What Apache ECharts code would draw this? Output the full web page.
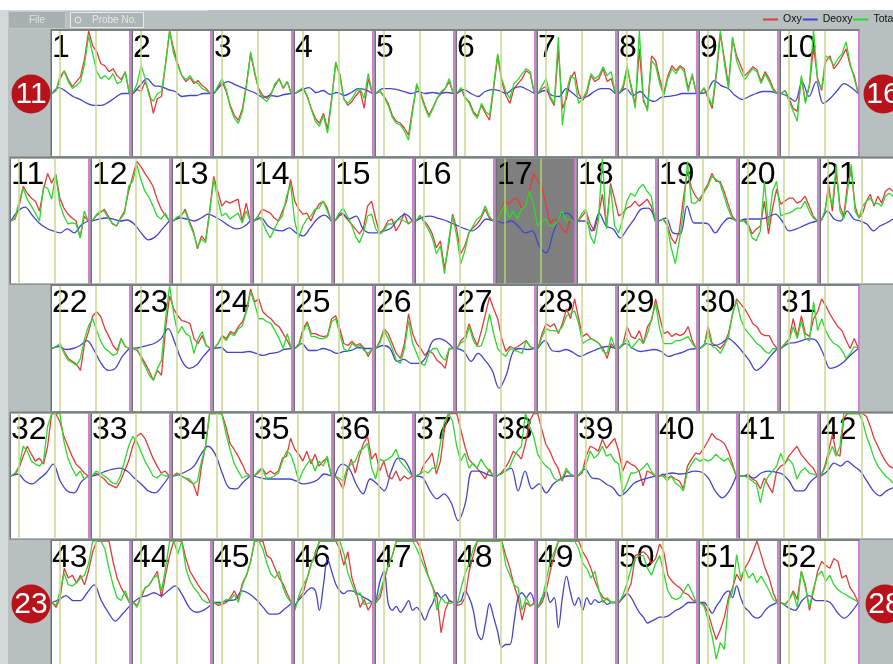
<!DOCTYPE html>
<html><head><meta charset="utf-8">
<script src="https://cdn.jsdelivr.net/npm/echarts@6/dist/echarts.min.js"></script>
<style>html,body{margin:0;padding:0;background:#b7bfbf;}#c{width:893px;height:664px;}</style>
</head><body><div id="c"></div>
<script>
// ---------- data ----------
const seriesNames = ['Oxy', 'Deoxy', 'Total'];
const taskMarks = [0.1, 0.575];           // task start / end (fraction of epoch)
const sideLabels = ['11', '16', '23', '28'];

const oxy = [
[0,3,15,23,14,7,12,17,35,63,48,42,30,28,22,25,18,14,22,0],
[0,4,2,12,0,-20,-5,-3,30,63,45,30,18,12,16,10,13,8,5,0],
[0,6,12,2,-12,-22,-27,-15,10,40,20,5,-2,-5,0,8,15,5,12,0],
[0,2,5,-3,-15,-25,-30,-20,-36,-5,30,20,-5,-12,-8,-2,3,-15,15,0],
[0,2,-3,-10,-22,-28,-30,-35,-42,-15,8,0,-12,-22,-14,-5,0,5,12,0],
[0,5,-5,-8,-18,-23,-12,-20,-27,5,38,12,-2,-10,5,10,15,23,20,0],
[0,5,7,-5,-12,45,-15,-5,15,22,0,-7,0,18,12,15,25,12,15,0],
[0,5,25,8,-12,45,-8,-15,38,33,15,0,18,28,23,28,25,5,18,0],
[0,5,-5,-15,18,60,35,8,55,38,28,18,22,27,24,12,22,15,5,0],
[0,3,-5,-15,-18,15,-8,8,47,15,3,32,38,25,30,37,45,28,18,0],
[0,2,15,35,28,23,20,10,32,48,38,47,23,13,7,3,0,-17,5,0],
[0,5,8,12,5,-3,-5,3,10,30,45,60,55,48,42,35,22,12,6,0],
[0,3,5,12,0,-10,-28,-15,-20,10,45,30,15,20,18,20,22,0,18,0],
[0,5,12,10,8,3,0,10,20,42,20,12,7,8,0,10,17,20,13,0],
[0,5,7,2,-3,-8,-13,-7,15,20,2,-13,-8,0,2,-10,-3,8,-3,0],
[0,5,0,-5,-13,-27,-20,-48,-25,7,-8,-33,-25,-12,-7,-3,3,12,3,0],
[0,12,20,17,22,23,13,15,30,48,40,35,17,-3,2,0,-8,-12,3,0],
[0,5,10,-3,-10,5,27,-5,38,22,5,8,13,15,20,15,18,22,15,0],
[0,2,-3,-17,-23,-10,23,50,33,25,20,30,37,48,40,40,30,17,5,0],
[0,2,-3,-13,-8,-5,20,-13,13,32,17,20,23,23,18,20,25,15,5,0],
[0,8,37,10,50,15,5,37,50,15,3,8,20,27,15,25,18,30,33,30],
[0,2,3,-3,-10,-13,-16,-22,5,17,33,37,32,20,12,3,-2,10,2,0],
[0,-2,-8,-15,-23,-32,-22,-27,20,53,40,33,28,27,25,10,5,13,3,0],
[0,5,13,10,17,15,22,27,38,60,47,50,37,33,30,25,22,15,8,0],
[0,5,20,27,15,15,13,12,13,30,33,20,5,3,7,3,5,0,-8,0],
[0,8,20,15,5,-5,-10,5,35,15,5,0,-7,-2,-5,-12,-15,-20,0,0],
[0,8,12,25,12,3,18,35,52,40,30,10,-3,2,0,2,5,8,2,0],
[0,15,25,22,25,15,25,40,30,50,30,12,15,10,8,5,0,-10,5,0],
[0,5,22,12,10,18,5,22,28,50,32,15,17,12,15,13,15,22,8,0],
[0,3,22,5,3,0,5,15,35,50,45,40,33,25,22,15,13,13,5,0],
[0,5,10,30,12,33,15,12,30,37,50,43,35,28,22,18,8,0,10,0],
[0,2,8,20,30,22,15,18,12,30,63,63,55,40,30,20,12,8,3,0],
[0,3,0,-3,-8,-10,-12,-5,5,15,30,40,43,38,28,18,10,3,5,0],
[0,3,0,-2,-5,-8,-20,10,30,63,63,63,63,50,33,27,20,12,3,0],
[0,3,8,2,5,2,5,18,20,38,27,22,15,25,12,22,10,15,18,0],
[0,-5,-13,5,17,3,20,33,40,17,23,5,15,0,-3,5,-5,0,-3,0],
[0,2,12,17,23,2,15,47,63,63,63,47,30,17,12,8,3,-3,7,0],
[0,3,8,15,25,22,17,33,55,63,63,47,32,25,15,8,-5,5,2,0],
[0,3,20,30,28,25,37,28,33,38,25,5,15,12,10,5,-10,5,3,0],
[0,2,-2,0,-3,-5,-13,10,17,23,22,28,35,43,38,36,33,25,13,0],
[0,0,2,-3,-5,-13,-2,-10,-17,5,10,12,20,25,30,22,17,12,8,0],
[0,10,25,42,23,20,58,63,63,63,63,63,60,50,38,30,22,15,10,8],
[0,-5,5,35,25,28,20,28,18,33,52,63,63,63,63,42,25,15,8,0],
[0,-3,5,15,18,25,32,5,28,48,63,63,63,45,32,25,18,12,8,0],
[0,-3,-2,0,5,12,3,20,28,42,63,63,63,48,45,35,25,19,9,0],
[-5,5,10,25,40,48,63,63,63,63,63,55,38,52,25,12,-5,3,-8,0],
[0,5,22,38,48,63,63,63,63,63,63,55,40,25,15,5,-31,-8,2,0],
[-3,-2,5,32,48,63,63,63,63,63,63,63,48,35,18,5,-18,0,-4,0],
[-5,0,12,32,48,63,63,63,63,63,63,52,45,35,22,12,5,3,0,0],
[0,5,10,20,48,50,52,48,40,45,60,52,28,22,18,15,10,8,3,0],
[0,-2,-11,-25,-38,-28,-15,5,15,29,22,35,42,52,63,49,35,25,10,0],
[0,-2,3,12,3,32,18,-8,12,32,42,38,35,45,42,25,28,15,9,0]
];

const total = [
[0,3,18,22,12,5,8,12,30,58,40,22,15,18,14,20,10,12,22,0],
[0,10,28,15,-3,-8,0,2,30,63,40,28,18,14,18,12,10,5,3,0],
[0,8,15,4,-14,-25,-30,-18,8,42,22,3,-5,-8,-2,10,14,6,12,0],
[0,3,6,-2,-16,-28,-33,-22,-40,-8,32,18,-6,-10,-5,2,5,-5,20,0],
[0,3,-4,-12,-24,-30,-32,-38,-47,-18,10,-2,-14,-24,-15,-5,2,5,15,0],
[0,6,-3,-10,-20,-25,-10,-18,-22,8,40,15,2,-5,10,14,20,25,22,0],
[0,8,15,-3,-10,57,-32,2,18,15,-10,-5,3,20,15,18,27,18,22,0],
[0,8,28,5,-15,63,-5,-18,33,28,10,-2,15,25,20,27,22,2,20,0],
[0,6,-3,-12,22,63,30,5,57,33,22,14,20,25,22,10,20,12,3,0],
[0,3,-8,-18,-28,18,-10,10,63,12,5,38,35,28,35,40,52,30,15,0],
[0,3,20,33,22,15,8,0,35,33,22,47,17,5,-3,-2,-3,-17,10,0],
[0,6,10,10,3,-2,-5,2,8,35,40,57,42,30,24,15,5,2,8,0],
[0,4,6,10,-2,-12,-26,-18,-22,8,42,22,5,8,2,5,8,-2,10,0],
[0,5,0,-10,-17,-8,0,5,25,37,0,-17,-5,2,5,12,13,20,10,0],
[0,8,13,5,-3,-15,-22,-12,5,7,-8,-13,-10,-3,-3,0,2,0,-2,0],
[0,6,-2,-8,-17,-33,-25,-53,-20,5,-15,-43,-30,-12,-5,2,5,15,5,0],
[0,10,17,3,10,2,12,15,30,17,-5,0,2,-5,-5,0,10,0,2,0],
[0,8,12,-15,-23,0,63,-8,35,-5,-12,2,20,28,25,33,37,30,25,0],
[0,2,-5,-27,-43,-20,10,60,18,18,23,28,35,45,42,38,25,12,3,0],
[0,0,-5,-17,-20,-10,40,-5,30,40,5,7,8,10,13,13,20,10,3,0],
[0,10,30,15,57,10,2,30,57,10,3,15,20,23,17,18,15,25,28,25],
[0,2,5,-5,-12,-14,-17,-10,10,23,30,18,7,0,-3,-7,-5,10,2,0],
[0,0,-10,-18,-27,-32,-20,-12,30,63,35,15,22,15,12,-5,10,17,3,0],
[0,5,12,8,15,13,20,23,38,57,45,30,30,27,25,18,10,0,15,0],
[0,3,17,25,12,12,10,10,12,27,30,15,0,-3,5,2,3,-2,-5,0],
[0,6,18,10,0,-12,-15,0,28,5,-5,-15,-17,-5,0,0,-8,-12,0,0],
[0,6,8,22,8,2,3,15,35,15,0,-5,-8,0,-2,-3,-5,8,2,0],
[0,12,20,18,18,17,22,33,35,38,25,5,8,10,8,5,-3,-5,12,0],
[0,5,10,0,5,10,5,15,30,45,20,5,5,5,8,8,10,12,5,0],
[0,3,18,2,0,-5,3,12,35,48,30,20,15,10,5,2,-3,-5,0,0],
[0,5,8,22,10,28,10,8,47,18,30,18,10,5,3,-2,-10,-5,2,0],
[0,3,10,30,25,15,12,10,15,50,63,63,63,35,18,8,0,5,-3,0],
[0,5,3,0,-3,-7,-8,0,15,30,40,35,25,15,8,0,-2,2,0,0],
[0,2,0,-2,-3,-8,-5,15,30,63,63,63,63,43,27,13,5,-2,0,0],
[0,5,8,-2,-2,0,3,15,25,22,10,-5,5,12,17,5,15,10,20,0],
[0,-2,-5,8,12,15,25,28,33,8,-3,17,15,17,20,27,15,10,5,0],
[0,2,5,3,8,8,33,55,63,55,30,15,23,8,13,8,17,10,5,0],
[0,2,5,8,18,25,30,63,50,40,22,15,10,7,-2,-5,-3,8,2,0],
[0,5,12,25,18,22,30,20,22,15,12,-17,-8,3,3,5,8,13,5,0],
[0,0,-5,0,-7,-10,-15,5,12,18,15,17,15,17,22,18,15,18,10,0],
[0,0,-2,-5,-8,-27,-8,0,5,10,23,13,17,12,-3,5,8,3,2,0],
[0,8,20,30,20,30,63,63,63,63,63,55,40,30,18,10,5,0,-3,-7],
[0,-3,12,30,18,17,20,25,28,40,63,63,63,55,35,18,5,2,12,0],
[0,-5,8,15,18,25,28,12,35,63,63,50,63,35,22,15,10,3,0,0],
[0,-2,0,3,3,8,0,18,28,42,63,63,55,40,29,25,32,15,5,0],
[-8,8,18,25,40,50,63,63,63,63,63,63,50,30,19,8,10,-2,-1,0],
[0,10,25,38,48,63,63,63,63,63,55,45,35,25,15,-8,5,0,-1,0],
[-3,15,30,40,55,63,63,63,63,63,63,63,38,28,18,15,-8,5,-3,-2],
[-5,3,22,42,52,63,63,63,63,63,55,40,35,25,32,12,0,5,0,0],
[0,8,20,35,45,48,48,35,28,40,48,30,12,5,3,5,12,19,10,0],
[0,-4,-18,-35,-58,-41,-48,2,10,49,25,35,25,30,20,27,20,12,3,0],
[0,-3,3,10,-5,32,15,-5,15,28,32,22,28,18,13,10,8,5,3,0]
];

const deoxy = [
[0,6,2,-3,-6,-10,-12,-12,-9,-4,0,0],
[0,8,15,8,7,4,2,-3,-2,-2,0,0],
[0,8,12,9,6,3,0,-4,-2,-3,-1,0],
[0,4,6,1,3,-1,1,-2,1,5,4,0],
[0,5,5,4,2,0,2,0,1,0,1,0],
[0,4,0,-3,2,4,3,0,5,7,4,0],
[0,3,-2,-3,5,0,-5,-3,2,5,5,0],
[0,5,-2,2,-5,-8,-4,-3,-2,0,0,0],
[0,2,13,8,5,-2,-6,-3,0,2,2,0],
[0,-3,-8,12,-3,12,-10,-5,3,10,6,0],
[0,10,14,6,-2,-7,-10,-12,-8,-12,-4,0],
[0,2,3,2,0,1,-3,-12,-19,-16,-8,0],
[0,3,2,0,3,7,4,0,-5,-8,-6,0],
[0,3,-5,-9,-10,-7,-12,-15,-7,2,6,0],
[0,8,2,5,-8,-12,-12,-10,-7,2,7,0],
[0,4,5,3,1,-2,-5,-8,-10,-5,2,0],
[0,-2,0,-5,-12,-10,-25,-32,-12,5,8,0],
[0,0,-10,8,-5,-8,-17,-8,2,12,13,0],
[0,3,-12,-13,15,-2,-2,-3,-12,-3,3,0],
[0,2,2,2,4,7,0,-10,-8,-5,-2,0],
[0,10,2,0,10,2,0,-3,-10,-5,-2,2],
[0,2,-1,0,3,8,-2,-15,-22,-20,-8,0],
[0,1,3,5,10,20,5,-13,-20,-17,-8,0],
[0,1,-4,-4,-4,-3,-5,-7,-5,-4,-1,0],
[0,5,-2,-2,0,-2,-5,-3,-2,1,0,0],
[0,3,0,-13,-11,-15,-15,-10,7,10,7,0],
[0,-3,-13,-5,-12,-22,-40,-27,-3,0,-1,0],
[0,8,-2,-3,-1,-4,-8,-5,-2,1,2,0],
[0,5,0,-3,-2,-1,-3,-8,-6,-4,-1,0],
[0,5,3,5,10,5,-3,-12,-22,-17,-8,0],
[0,5,6,8,10,8,-5,-20,-18,-13,-6,0],
[0,2,-5,-8,-3,3,12,-5,-15,-17,-6,0],
[0,2,5,7,8,5,-2,-8,-15,-17,-10,0],
[0,2,5,10,22,30,22,3,-12,-13,-6,0],
[0,-2,-3,-3,-3,-3,-5,-8,-7,-4,2,0],
[0,12,8,-8,-18,-3,-8,-15,5,18,15,0],
[0,-2,-15,-23,-18,-27,-45,-28,5,5,2,0],
[0,4,8,-15,5,-13,-8,-17,-8,-3,0,0],
[0,7,-2,-3,-8,-12,-20,-15,-7,-4,-2,0],
[0,2,3,2,3,5,4,-2,-15,-22,-15,0],
[0,0,-2,3,5,4,2,-5,-15,-15,-6,0],
[0,5,13,10,15,10,5,-5,-15,-20,-15,-12],
[0,3,7,2,2,10,18,2,-10,-19,-12,-4],
[0,5,7,10,7,12,17,8,-5,-10,-8,-3],
[0,0,2,3,12,9,3,-5,-12,-12,-7,-1],
[-3,3,7,12,15,12,-8,18,45,32,19,12,9,12,12,10,8,5,3,0],
[0,22,32,-1,-8,-4,-10,-5,2,-8,-5,-10,-18,-8,0,10,5,8,2,0],
[0,2,12,5,-8,-31,-38,-21,-1,-15,-30,-46,-43,-43,-21,5,10,5,10,0],
[-5,5,12,0,5,-26,5,27,10,-3,5,-8,5,-2,3,0,2,-2,0,0],
[0,5,9,5,-3,-10,-15,-21,-19,-17,-15,-15,-14,-11,-8,-6,-3,0,0,0],
[0,0,-5,-11,-4,2,9,12,5,17,5,-5,-9,-14,-16,-14,-8,-4,-2,0],
[0,-5,-8,2,7,2,2,0,-10,-16,-10,0]
];

// ---------- layout ----------
const rows = [
  {top: 31,    left: 50.5, first: 1,  count: 10},
  {top: 158.5, left: 9.5,  first: 11, count: 11},
  {top: 286,   left: 50.5, first: 22, count: 10},
  {top: 413.5, left: 9.5,  first: 32, count: 11},
  {top: 541,   left: 50.5, first: 43, count: 10}
];
const PITCH = 81, PW = 80, PH = 125, YMAX = 63;
const COLORS = {Oxy: '#e23c3c', Deoxy: '#4545cc', Total: '#2fd82f'};
const FONT = '"Liberation Sans", Arial, sans-serif';

const grid = [], xAxis = [], yAxis = [], series = [], graphics = [];

// top white strip, left light strip, toolbar
graphics.push({type:'rect', shape:{x:0,y:0,width:893,height:10}, style:{fill:'#ffffff'}, silent:true, z:1});
graphics.push({type:'rect', shape:{x:0,y:10,width:8,height:654}, style:{fill:'#d3d8d8'}, silent:true, z:1});
graphics.push({type:'rect', shape:{x:8,y:10,width:200,height:1}, style:{fill:'#d6dada'}, silent:true, z:1});
graphics.push({type:'rect', shape:{x:8.5,y:11.5,width:57,height:17}, style:{fill:'#a8b0b0', stroke:'#c3c9c9', lineWidth:1}, silent:true, z:1});
graphics.push({type:'text', x:37, y:20, style:{text:'File', fill:'#dfe3e3', font:'10px '+FONT, textAlign:'center', textVerticalAlign:'middle'}, silent:true, z:2});
graphics.push({type:'rect', shape:{x:70.5,y:12.5,width:73,height:15}, style:{fill:'#adb5b5', stroke:'#e6eaea', lineWidth:1}, silent:true, z:1});
graphics.push({type:'circle', shape:{cx:78,cy:20,r:3}, style:{fill:'none', stroke:'#e6eaea', lineWidth:1}, silent:true, z:2});
graphics.push({type:'text', x:92, y:20, style:{text:'Probe No.', fill:'#e2e6e6', font:'10px '+FONT, textAlign:'left', textVerticalAlign:'middle'}, silent:true, z:2});

let g = 0;
rows.forEach(r => {
  const rowW = PITCH * (r.count - 1) + PW;
  graphics.push({type:'rect', shape:{x:r.left, y:r.top-2, width:rowW, height:2}, style:{fill:'#7a8080'}, silent:true, z:5});
  graphics.push({type:'rect', shape:{x:r.left, y:r.top+PH, width:rowW, height:1.5}, style:{fill:'#8e9696'}, silent:true, z:5});
  for (let k = 0; k < r.count; k++) {
    const ch = r.first + k;
    const L = r.left + PITCH * k;
    const isSel = ch === 17;
    grid.push({left: L + 1.5, top: r.top, width: PW - 2.7, height: PH, show: true,
      backgroundColor: isSel ? '#7f7f7f' : '#ffffff', borderWidth: 0});
    xAxis.push({type:'value', gridIndex:g, min:0, max:1, show:false});
    yAxis.push({type:'value', gridIndex:g, min:-YMAX, max:YMAX, show:false});
    const sets = {Oxy: oxy[ch-1], Deoxy: deoxy[ch-1], Total: total[ch-1]};
    seriesNames.forEach(name => {
      const arr = sets[name];
      const s = {
        name, type:'line', xAxisIndex:g, yAxisIndex:g,
        data: arr.map((v, i) => [i / (arr.length - 1), v]),
        showSymbol:false, symbol:'none', clip:true, silent:true, animation:false,
        smooth: name === 'Deoxy' ? 0.35 : false,
        lineStyle:{width:1.3, color:COLORS[name]}, itemStyle:{color:COLORS[name]},
        emphasis:{disabled:true}
      };
      if (name === 'Oxy') {
        s.markLine = {silent:true, symbol:['none','none'], animation:false, label:{show:false},
          lineStyle:{color: isSel ? '#a6d870' : '#cad98f', width:1.5, type:'solid'},
          emphasis:{disabled:true},
          data: taskMarks.map(v => ({xAxis: v}))};
      }
      series.push(s);
    });
    // panel frame
    graphics.push({type:'rect', shape:{x:L, y:r.top, width:1.5, height:PH}, style:{fill:'#6c7272'}, silent:true, z:5});
    graphics.push({type:'rect', shape:{x:L+PW-1.2, y:r.top, width:1.2, height:PH}, style:{fill:'#d45ad4'}, silent:true, z:5});
    // channel number
    graphics.push({type:'text', x:L+1.5, y:r.top+1, style:{text:String(ch), fill:'#000', font:'32px '+FONT, textAlign:'left', textVerticalAlign:'top'}, silent:true, z:1});
    g++;
  }
});

// red side markers
const sidePos = [[31, 94], [883, 94], [31, 604], [885, 604]];
sideLabels.forEach((t, i) => {
  const [cx, cy] = sidePos[i];
  graphics.push({type:'circle', shape:{cx, cy, r:19.5}, style:{fill:'#b8121a'}, silent:true, z:20});
  graphics.push({type:'text', x:cx, y:cy+1, style:{text:t, fill:'#ffffff', font:'30px '+FONT, textAlign:'center', textVerticalAlign:'middle'}, silent:true, z:21});
});

const chart = echarts.init(document.getElementById('c'), null, {renderer:'canvas'});
chart.setOption({
  animation:false,
  backgroundColor:'#b7bfbf',
  legend:{data:seriesNames, left:763, top:14, width:260, orient:'horizontal', icon:'rect', itemWidth:15, itemHeight:2, itemGap:1,
    padding:0, selectedMode:false, textStyle:{fontSize:10.5, color:'#111', fontFamily:'Liberation Sans'}},
  grid, xAxis, yAxis, series,
  graphic:{elements:graphics}
});
</script></body></html>
